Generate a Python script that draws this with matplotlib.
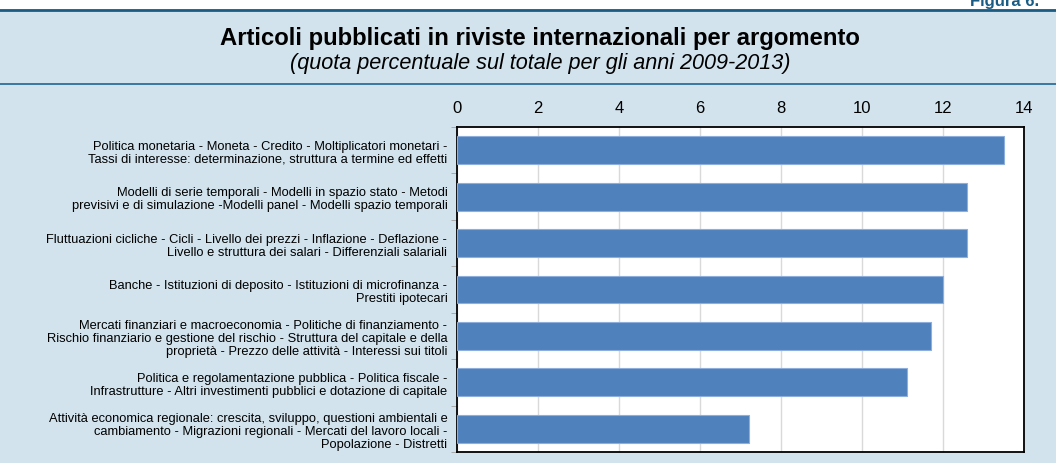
import numpy as np
import matplotlib
matplotlib.use("Agg")
import matplotlib.pyplot as plt
from matplotlib.lines import Line2D
from matplotlib.patches import Rectangle

# Data
categories = [
    "Politica monetaria - Moneta - Credito - Moltiplicatori monetari -\n"
    "Tassi di interesse: determinazione, struttura a termine ed effetti",
    "Modelli di serie temporali - Modelli in spazio stato - Metodi\n"
    "previsivi e di simulazione -Modelli panel - Modelli spazio temporali",
    "Fluttuazioni cicliche - Cicli - Livello dei prezzi - Inflazione - Deflazione -\n"
    "Livello e struttura dei salari - Differenziali salariali",
    "Banche - Istituzioni di deposito - Istituzioni di microfinanza -\n"
    "Prestiti ipotecari",
    "Mercati finanziari e macroeconomia - Politiche di finanziamento -\n"
    "Rischio finanziario e gestione del rischio - Struttura del capitale e della\n"
    "proprietà - Prezzo delle attività - Interessi sui titoli",
    "Politica e regolamentazione pubblica - Politica fiscale -\n"
    "Infrastrutture - Altri investimenti pubblici e dotazione di capitale",
    "Attività economica regionale: crescita, sviluppo, questioni ambientali e\n"
    "cambiamento - Migrazioni regionali - Mercati del lavoro locali -\n"
    "Popolazione - Distretti",
]
values = [13.5, 12.6, 12.6, 12.0, 11.7, 11.1, 7.2]
xticks = [0, 2, 4, 6, 8, 10, 12, 14]

plt.rcParams['font.family'] = ['Liberation Sans', 'DejaVu Sans']

W, H = 1056, 464
bg = "#d2e3ed"
dark = "#1b5c85"

fig = plt.figure(figsize=(W / 100, H / 100), dpi=100, facecolor=bg)

# white strip at the very top with the cut-off figure label
fig.add_artist(Rectangle((0, 1 - 10 / H), 1, 10 / H, transform=fig.transFigure,
                         facecolor="white", edgecolor="none", zorder=0))
fig.text(970 / W, 1 - 6 / H, "Figura 6.", color=dark, fontsize=12,
         fontweight="bold", ha="left", va="baseline")
fig.add_artist(Line2D([0, 1], [1 - 11 / H, 1 - 11 / H], transform=fig.transFigure,
                      color=dark, linewidth=2))
fig.add_artist(Line2D([0, 1], [1 - 85 / H, 1 - 85 / H], transform=fig.transFigure,
                      color="#2b6f9a", linewidth=1.3))

fig.text(540 / W, 1 - 38 / H, "Articoli pubblicati in riviste internazionali per argomento",
         ha="center", va="center", fontsize=17.2, fontweight="bold", color="black")
fig.text(540 / W, 1 - 63 / H, "(quota percentuale sul totale per gli anni 2009-2013)",
         ha="center", va="center", fontsize=15.6, fontstyle="italic", color="black")

ax = fig.add_axes([457 / W, 1 - 453 / H, 567 / W, 325 / H])
ax.set_facecolor("white")

y = np.arange(len(categories))
ax.barh(y, values, height=0.6, color="#4f81bd", edgecolor="#8eaedb", linewidth=0.8,
        zorder=3)

ax.set_xlim(0, 14)
ax.set_ylim(len(categories) - 0.5, -0.5)
ax.set_xticks(xticks)
ax.xaxis.tick_top()
ax.tick_params(axis="x", length=0, pad=8.5, labelsize=12)
ax.grid(axis="x", color="#d9d9d9", linewidth=1, zorder=0)

ax.set_yticks(y)
ax.set_yticklabels(categories, fontsize=9.3, linespacing=1.12, ha="right")
ax.tick_params(axis="y", length=0, pad=7)
ax.set_yticks(np.arange(len(categories) + 1) - 0.5, minor=True)
ax.tick_params(axis="y", which="minor", length=4, color="#a0a0a0")

for s in ax.spines.values():
    s.set_color("black")
    s.set_linewidth(1.3)

fig.savefig("out.png", dpi=100, facecolor=bg)
